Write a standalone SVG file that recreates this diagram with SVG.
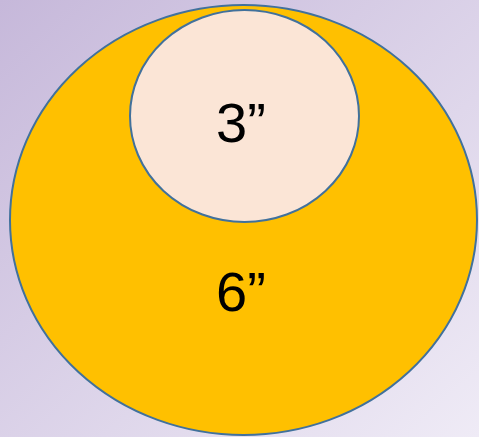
<svg xmlns="http://www.w3.org/2000/svg" width="479" height="437" viewBox="0 0 479 437">
<defs>
<linearGradient id="bg" x1="0" y1="0" x2="1" y2="1">
<stop offset="0" stop-color="#c6b8da"/>
<stop offset="1" stop-color="#efebf6"/>
</linearGradient>
<style>
.ring{stroke:#41719c;stroke-width:2}
.lbl{font-family:"Liberation Sans",Arial,sans-serif;font-size:56px;fill:#000;text-anchor:middle}
</style>
</defs>
<rect width="479" height="437" fill="url(#bg)"/>
<g id="outer">
<ellipse class="ring" cx="243.5" cy="220" rx="233.5" ry="215" fill="#ffc000"/>
<text class="lbl" x="241" y="311">6”</text>
</g>
<g id="inner">
<ellipse class="ring" cx="244.5" cy="116" rx="114.5" ry="106" fill="#fbe5d6"/>
<text class="lbl" x="241" y="141.5">3”</text>
</g>
<g id="connectors"/>
</svg>
